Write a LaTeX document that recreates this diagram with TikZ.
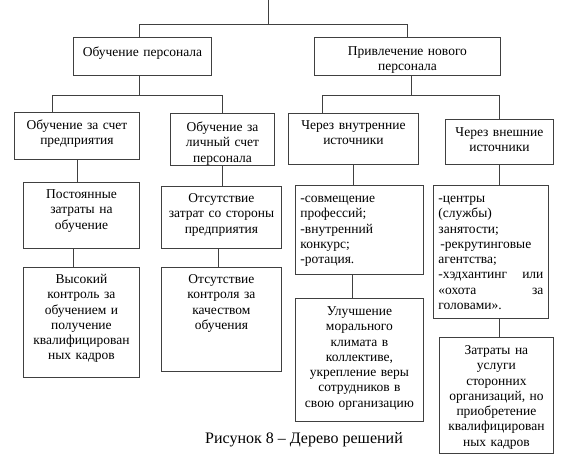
\documentclass[tikz,border=0pt]{standalone}
\usepackage{fontspec}
\setmainfont{Liberation Serif}
\newcommand{\blkfont}{\fontsize{13.5}{15.3}\selectfont}
\tikzset{
  blk/.style={draw=black!75, line width=0.9pt, anchor=north west, inner sep=0pt, align=center, font=\blkfont},
  lst/.style={blk, align=left, inner xsep=5pt},
  link/.style={draw=black!75, line width=0.9pt}
}
\begin{document}
\begin{tikzpicture}[x=1pt, y=-1pt]
  \useasboundingbox (0,0) rectangle (561,460);

  \node[blk, text width=138pt, text height=19pt, text depth=19pt] (A) at (73,37) {Обучение персонала};
  \node[blk, text width=186pt, text height=18pt, text depth=20pt] (B) at (314,37) {Привлечение нового\\персонала};

  \node[blk, text width=125pt, text height=17pt, text depth=30pt] (A1) at (14,112) {Обучение за счет\\предприятия};
  \node[blk, text width=104pt, text height=18pt, text depth=34pt] (A2) at (170,113) {Обучение за\\личный счет\\персонала};
  \node[blk, text width=130pt, text height=16pt, text depth=35pt] (B1) at (288,113) {Через внутренние\\источники};
  \node[blk, text width=108pt, text height=17pt, text depth=28pt] (B2) at (445,119) {Через внешние\\источники};

  \node[blk, text width=116pt, text height=16pt, text depth=50pt] (A1a) at (23,182) {Постоянные\\затраты на\\обучение};
  \node[blk, text width=120pt, text height=16pt, text depth=46pt] (A2a) at (161,186) {Отсутствие\\затрат со стороны\\предприятия};
  \node[lst, text width=118pt, text height=17pt, text depth=72pt] (B1a) at (295,185) {-совмещение\\профессий;\\-внутренний\\конкурс;\\-ротация.};
  \node[lst, text width=105pt, text height=17pt, text depth=116pt] (B2a) at (433,185) {-центры\\(службы)\\занятости;\\\hspace*{2pt}-рекрутинговые\\агентства;\\-хэдхантинг\hfill или\\«охота\hfill за\\головами».};

  \node[blk, text width=116pt, text height=16pt, text depth=94pt] (A1b) at (23,267) {Высокий\\контроль за\\обучением и\\получение\\квалифицирован\\ных кадров};
  \node[blk, text width=120pt, text height=16pt, text depth=88pt] (A2b) at (161,267) {Отсутствие\\контроля за\\качеством\\обучения};
  \node[blk, text width=128pt, text height=17pt, text depth=106pt] (B1b) at (295,298) {Улучшение\\морального\\климата в\\коллективе,\\укрепление веры\\сотрудников в\\свою организацию};
  \node[blk, text width=114pt, text height=17pt, text depth=99pt] (B2b) at (439,337) {Затраты на\\услуги\\сторонних\\организаций, но\\приобретение\\квалифицирован\\ных кадров};

  \node[font=\fontsize{16}{19}\selectfont] (cap) at (304,440) {Рисунок 8 – Дерево решений};

  \coordinate (root) at (268,0);
  \draw[link] (root) -- ++(0,24);
  \draw[link] ([xshift=-3pt]A.north) -- ++(0,-13) -| (B.north);

  \draw[link] ([xshift=-3pt]A.south) -- ++(0,20) coordinate (Abus);
  \draw[link] ([xshift=-24.5pt]A1.north) |- (Abus) -| (A2.north);
  \draw[link] ([xshift=4pt]B.south) -- ++(0,20) coordinate (Bbus);
  \draw[link] ([xshift=-31pt]B1.north) |- (Bbus) -| (B2.north);

  \draw[link] (A1.south) -- (A1.south |- A1a.north);
  \draw[link] ([xshift=-8pt]A1a.south) -- ([xshift=-8pt]A1b.north);
  \draw[link] (A2.south) -- (A2.south |- A2a.north);
  \draw[link] ([xshift=-3pt]A2a.south) -- ([xshift=-3pt]A2b.north);
  \draw[link] (B1.south) -- (B1.south |- B1a.north);
  \draw[link] ([xshift=-7pt]B1a.south) -- ([xshift=-7pt]B1b.north);
  \draw[link] (B2.south) -- (B2.south |- B2a.north);
  \draw[link] (B2.south |- B2a.south) -- (B2.south |- B2b.north);
\end{tikzpicture}
\end{document}
